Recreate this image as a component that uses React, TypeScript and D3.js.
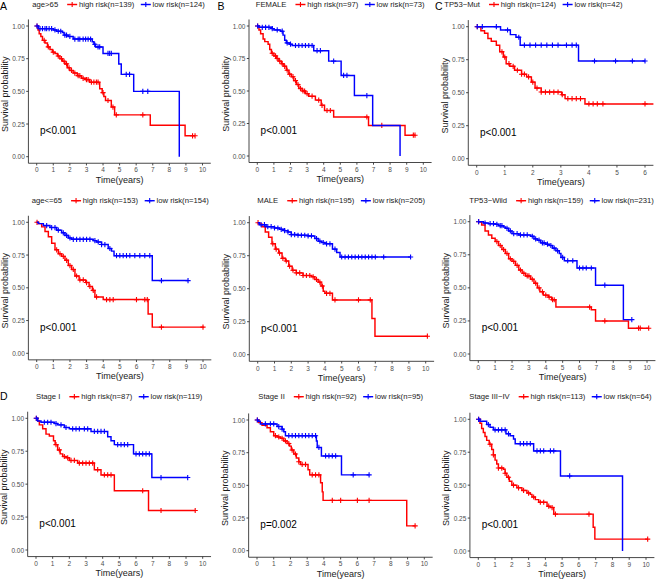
import React from 'react';
import * as d3 from 'd3';

type Step = [number, number];

// ---------- DATA ----------
// Panel A: age>65
const ageGt65HighSteps: Step[] = [[0.08,0.97],[0.15,0.94],[0.25,0.92],[0.35,0.89],[0.5,0.87],[0.65,0.84],[0.8,0.82],[0.95,0.80],[1.1,0.79],[1.25,0.77],[1.4,0.75],[1.55,0.73],[1.7,0.71],[1.85,0.68],[2.0,0.66],[2.2,0.64],[2.45,0.62],[2.7,0.60],[2.95,0.59],[3.2,0.57],[3.8,0.52],[3.95,0.49],[4.05,0.46],[4.15,0.43],[4.5,0.38],[4.7,0.32],[6.85,0.24],[8.95,0.16]];
const ageGt65HighCensor = [0.02,0.45,0.7,1.0,1.3,1.5,1.65,1.8,1.95,2.1,2.3,2.5,2.6,2.8,3.0,3.1,3.3,3.45,3.6,3.7,4.0,4.3,4.6,4.8,6.4,9.4,9.55];
const ageGt65LowSteps: Step[] = [[0.1,0.98],[1.0,0.97],[1.2,0.96],[1.55,0.95],[1.65,0.93],[1.9,0.92],[2.2,0.90],[3.35,0.88],[3.45,0.86],[3.55,0.84],[4.0,0.79],[4.95,0.71],[5.1,0.63],[5.85,0.50],[8.6,0.0]];
const ageGt65LowCensor = [0.02,0.2,0.35,0.5,0.6,0.75,0.9,1.1,1.3,1.45,1.7,1.8,2.0,2.3,2.5,2.6,2.8,2.95,3.1,3.25,3.5,3.7,3.8,4.3,4.4,4.5,5.4,5.6,6.4,6.7];

// Panel B: FEMALE
const femaleHighSteps: Step[] = [[0.1,0.97],[0.2,0.94],[0.35,0.9],[0.45,0.88],[0.65,0.86],[0.75,0.82],[0.85,0.79],[1.0,0.77],[1.15,0.75],[1.3,0.73],[1.45,0.71],[1.6,0.69],[1.75,0.66],[1.9,0.63],[2.05,0.61],[2.2,0.58],[2.35,0.55],[2.5,0.52],[2.7,0.50],[2.9,0.48],[3.1,0.46],[3.5,0.43],[3.85,0.39],[4.05,0.35],[4.6,0.30],[6.7,0.235],[8.9,0.16]];
const femaleHighCensor = [0.02,0.9,1.1,1.2,1.35,1.5,1.65,1.8,1.95,2.15,2.3,2.45,2.6,2.75,2.85,3.0,3.3,3.7,3.9,4.2,4.4,6.6,7.5,9.4,9.5];
const femaleLowSteps: Step[] = [[0.1,0.99],[0.9,0.98],[1.0,0.97],[1.4,0.96],[1.55,0.93],[1.65,0.89],[1.75,0.87],[1.95,0.86],[2.1,0.85],[3.4,0.81],[4.3,0.73],[5.05,0.62],[5.85,0.465],[6.95,0.235],[8.6,0.0]];
const femaleLowCensor = [0.02,0.3,0.5,0.7,0.9,1.2,1.5,1.8,2.0,2.3,2.5,2.7,2.9,3.1,3.3,3.6,3.8,4.6,5.2,5.4,6.6];

// Panel C: TP53-Mut
const mutHighSteps: Step[] = [[0.15,0.97],[0.28,0.95],[0.4,0.91],[0.52,0.89],[0.7,0.86],[0.82,0.81],[0.95,0.77],[1.05,0.72],[1.18,0.70],[1.35,0.67],[1.6,0.64],[1.78,0.62],[1.95,0.58],[2.08,0.535],[2.3,0.505],[3.03,0.485],[3.15,0.455],[3.86,0.415]];
const mutHighCensor = [0.02,0.9,1.0,1.15,1.3,1.45,1.6,1.7,1.85,2.0,2.15,2.3,2.45,2.6,2.75,2.9,3.05,3.25,3.4,3.55,3.7,4.0,4.15,4.3,4.5,6.0];
const mutLowSteps: Step[] = [[0.85,0.975],[1.2,0.94],[1.4,0.92],[1.55,0.86],[3.63,0.74]];
const mutLowCensor = [0.02,0.2,0.7,1.1,1.5,1.7,1.9,2.1,2.3,2.5,2.7,2.9,3.2,3.4,3.55,4.2,4.95,5.55,6.0];

// Panel: age<=65
const ageLe65HighSteps: Step[] = [[0.1,0.99],[0.3,0.965],[0.5,0.93],[0.7,0.89],[0.9,0.84],[1.1,0.79],[1.3,0.76],[1.5,0.74],[1.7,0.71],[1.9,0.67],[2.1,0.64],[2.3,0.59],[2.55,0.56],[2.95,0.54],[3.15,0.51],[3.35,0.48],[3.5,0.43],[4.0,0.41],[6.7,0.30],[6.95,0.20]];
const ageLe65HighCensor = [0.02,1.2,1.4,1.6,1.8,2.0,2.2,2.4,2.6,2.8,3.0,3.2,3.4,3.6,4.2,4.4,4.6,6.0,6.5,6.65,7.5,10.0];
const ageLe65LowSteps: Step[] = [[0.1,0.99],[0.4,0.975],[0.8,0.96],[1.2,0.94],[1.5,0.92],[1.7,0.90],[1.9,0.88],[2.1,0.87],[3.4,0.86],[3.6,0.85],[3.9,0.83],[4.3,0.80],[4.5,0.78],[4.65,0.745],[6.95,0.555]];
const ageLe65LowCensor = [0.6,0.9,1.1,1.3,1.6,1.8,2.0,2.2,2.4,2.6,2.8,3.0,3.2,3.5,3.7,3.9,4.1,4.4,4.8,5.0,5.2,5.4,5.6,5.9,6.2,6.5,6.8,7.5,9.1];

// Panel: MALE
const maleHighSteps: Step[] = [[0.1,0.99],[0.25,0.97],[0.45,0.93],[0.65,0.89],[0.85,0.84],[1.05,0.80],[1.25,0.77],[1.45,0.73],[1.65,0.71],[1.85,0.67],[2.05,0.64],[2.3,0.62],[2.7,0.60],[3.2,0.59],[3.4,0.57],[3.6,0.55],[3.77,0.52],[3.9,0.48],[4.0,0.465],[4.45,0.415],[6.8,0.275],[6.98,0.14]];
const maleHighCensor = [0.02,0.9,1.1,1.3,1.5,1.7,1.9,2.1,2.3,2.5,2.7,2.9,3.1,3.3,3.5,3.7,3.85,4.1,4.3,4.6,6.0,6.7,10.1];
const maleLowSteps: Step[] = [[0.1,0.985],[0.5,0.97],[1.0,0.96],[1.3,0.95],[1.6,0.94],[1.8,0.93],[2.0,0.91],[2.4,0.905],[3.0,0.90],[3.4,0.88],[3.6,0.86],[3.8,0.85],[4.0,0.84],[4.45,0.80],[4.7,0.775],[4.9,0.74]];
const maleLowCensor = [0.2,0.4,0.6,0.8,1.0,1.2,1.4,1.6,1.8,2.0,2.2,2.4,2.6,2.8,3.0,3.2,3.5,3.7,3.9,4.1,4.3,4.6,5.0,5.2,5.4,5.6,5.8,6.0,6.2,6.4,6.6,6.8,7.0,7.5,9.1];

// Panel: TP53-Wild
const wildHighSteps: Step[] = [[0.2,0.975],[0.4,0.93],[0.6,0.90],[0.8,0.875],[1.0,0.85],[1.2,0.82],[1.4,0.79],[1.6,0.76],[1.8,0.72],[2.0,0.70],[2.2,0.67],[2.4,0.635],[2.6,0.61],[2.8,0.59],[3.1,0.565],[3.3,0.535],[3.5,0.50],[3.65,0.47],[3.85,0.445],[4.15,0.43],[4.35,0.41],[4.6,0.355],[6.7,0.335],[6.95,0.25],[8.9,0.195]];
const wildHighCensor = [0.02,1.1,1.3,1.5,1.7,1.9,2.1,2.3,2.5,2.7,2.9,3.0,3.2,3.4,3.6,3.8,4.0,4.2,4.4,4.5,6.6,7.5,9.5,9.6,10.1];
const wildLowSteps: Step[] = [[0.3,0.99],[0.6,0.985],[1.0,0.98],[1.2,0.97],[1.5,0.96],[1.6,0.95],[1.8,0.93],[2.0,0.91],[2.4,0.90],[3.1,0.89],[3.3,0.87],[3.5,0.86],[3.7,0.84],[4.0,0.83],[4.2,0.82],[4.4,0.80],[4.6,0.78],[4.8,0.76],[4.9,0.73],[5.1,0.705],[5.85,0.65],[6.95,0.52],[8.6,0.26]];
const wildLowCensor = [0.02,0.4,0.7,0.9,1.1,1.3,1.4,1.7,1.9,2.1,2.3,2.5,2.7,2.9,3.2,3.4,3.6,3.8,3.9,4.1,4.3,4.5,4.7,5.0,5.3,5.6,6.0,6.2,6.4,6.7,7.5,9.1];

// Panel D: Stage I
const stage1HighSteps: Step[] = [[0.1,0.98],[0.2,0.95],[0.4,0.92],[0.6,0.88],[0.8,0.865],[1.05,0.83],[1.15,0.80],[1.3,0.76],[1.45,0.73],[1.6,0.71],[1.8,0.70],[2.0,0.68],[2.5,0.66],[3.5,0.61],[3.9,0.57],[4.7,0.45],[6.75,0.30]];
const stage1HighCensor = [0.02,1.2,1.4,1.7,1.9,2.1,2.3,2.6,2.8,3.0,3.2,3.4,3.7,4.1,4.3,4.5,6.4,7.5,9.55];
const stage1LowSteps: Step[] = [[0.1,0.98],[0.3,0.97],[1.1,0.96],[1.3,0.95],[1.7,0.93],[2.0,0.92],[3.3,0.90],[4.3,0.86],[4.5,0.83],[4.7,0.80],[5.85,0.73],[6.95,0.55]];
const stage1LowCensor = [0.02,0.5,0.7,0.9,1.2,1.5,1.8,2.2,2.4,2.6,2.9,3.1,3.5,3.7,3.9,4.1,4.9,5.1,5.3,5.5,6.0,6.2,6.4,6.6,6.8,7.5,9.1];

// Panel: Stage II
const stage2HighSteps: Step[] = [[0.1,0.98],[0.3,0.96],[0.6,0.94],[0.8,0.91],[1.0,0.88],[1.2,0.87],[1.4,0.86],[1.6,0.84],[1.8,0.82],[1.95,0.80],[2.05,0.77],[2.2,0.74],[2.35,0.71],[2.5,0.68],[2.6,0.66],[3.05,0.62],[3.15,0.58],[3.8,0.52],[3.9,0.45],[3.95,0.385],[8.95,0.19]];
const stage2HighCensor = [0.02,1.1,1.3,1.5,1.7,1.9,2.1,2.3,2.5,2.7,2.9,3.3,3.5,3.7,4.5,5.0,6.0,6.7,9.45];
const stage2LowSteps: Step[] = [[0.05,0.99],[0.2,0.97],[1.2,0.95],[1.5,0.93],[1.6,0.91],[1.7,0.88],[3.55,0.84],[3.6,0.79],[3.85,0.725],[5.05,0.58]];
const stage2LowCensor = [0.02,0.5,0.8,1.0,1.3,1.5,1.9,2.1,2.3,2.5,2.7,2.9,3.1,3.3,3.5,3.7,4.1,4.3,4.5,4.7,5.75,6.7];

// Panel: Stage III-IV
const stage34HighSteps: Step[] = [[0.1,0.97],[0.2,0.93],[0.3,0.90],[0.4,0.87],[0.5,0.84],[0.65,0.81],[0.8,0.77],[0.9,0.73],[1.0,0.69],[1.1,0.66],[1.2,0.63],[1.5,0.62],[1.6,0.59],[1.7,0.56],[1.85,0.53],[2.0,0.50],[2.3,0.48],[2.6,0.46],[2.9,0.44],[3.1,0.43],[3.2,0.41],[3.4,0.39],[3.6,0.37],[4.1,0.34],[4.3,0.33],[4.5,0.28],[6.85,0.18],[6.95,0.09]];
const stage34HighCensor = [0.02,0.7,0.9,1.2,1.4,1.6,1.8,2.1,2.4,2.7,3.0,3.3,3.7,3.9,4.2,4.4,4.6,6.6,10.1];
const stage34LowSteps: Step[] = [[0.1,0.985],[0.5,0.96],[0.7,0.94],[0.9,0.92],[1.65,0.89],[1.9,0.875],[2.1,0.85],[2.2,0.815],[3.3,0.76],[4.9,0.57],[8.6,0.0]];
const stage34LowCensor = [0.02,0.6,1.0,1.2,1.4,1.6,1.8,2.5,2.7,2.9,3.1,3.5,3.7,3.9,4.3,4.5,5.45];

const groupNames = ['age>65', 'FEMALE', 'TP53\u2212Mut', 'age<=65', 'MALE', 'TP53\u2212Wild', 'Stage I', 'Stage II', 'Stage III\u2212IV'];
const highN = [139, 97, 124, 153, 195, 159, 87, 92, 113];
const lowN = [124, 73, 42, 154, 205, 231, 119, 95, 64];
const pValues = ['p<0.001', 'p<0.001', 'p<0.001', 'p<0.001', 'p<0.001', 'p<0.001', 'p<0.001', 'p=0.002', 'p<0.001'];
const highEnd = [9.55, 9.5, 6.3, 10.05, 10.1, 10.1, 9.55, 9.45, 10.1];
const lowEnd = [8.6, 8.6, 6.0, 9.1, 9.1, 9.1, 9.1, 6.7, 8.6];
const xMaxYears = [10, 10, 6, 10, 10, 10, 10, 10, 10];
const yTickValues = [0, 0.25, 0.5, 0.75, 1];
const panelLetters = ['A', 'B', 'C', '', '', '', 'D', '', ''];

const highStepsAll = [ageGt65HighSteps, femaleHighSteps, mutHighSteps, ageLe65HighSteps, maleHighSteps, wildHighSteps, stage1HighSteps, stage2HighSteps, stage34HighSteps];
const highCensorAll = [ageGt65HighCensor, femaleHighCensor, mutHighCensor, ageLe65HighCensor, maleHighCensor, wildHighCensor, stage1HighCensor, stage2HighCensor, stage34HighCensor];
const lowStepsAll = [ageGt65LowSteps, femaleLowSteps, mutLowSteps, ageLe65LowSteps, maleLowSteps, wildLowSteps, stage1LowSteps, stage2LowSteps, stage34LowSteps];
const lowCensorAll = [ageGt65LowCensor, femaleLowCensor, mutLowCensor, ageLe65LowCensor, maleLowCensor, wildLowCensor, stage1LowCensor, stage2LowCensor, stage34LowCensor];

// ---------- LAYOUT ----------
const layout = [
  { x0: 36.7, xEnd: 202.5, yTop: 26, yBottom: 156.7, legendX: 32.3, legendY: 4.5, letterX: 0, letterY: 10 },
  { x0: 257.3, xEnd: 423.3, yTop: 26, yBottom: 156, legendX: 255.7, legendY: 4.5, letterX: 217.5, letterY: 10 },
  { x0: 476.7, xEnd: 645, yTop: 26.7, yBottom: 158.7, legendX: 444.3, legendY: 4.5, letterX: 435, letterY: 10 },
  { x0: 36.7, xEnd: 203, yTop: 222.3, yBottom: 353.3, legendX: 31.7, legendY: 200.7, letterX: 0, letterY: 0 },
  { x0: 257.7, xEnd: 425.7, yTop: 222.7, yBottom: 354.7, legendX: 257.3, legendY: 200.7, letterX: 0, letterY: 0 },
  { x0: 478.3, xEnd: 647, yTop: 221.7, yBottom: 354, legendX: 469.3, legendY: 200.7, letterX: 0, letterY: 0 },
  { x0: 36, xEnd: 202.7, yTop: 418.3, yBottom: 550, legendX: 36, legendY: 396.7, letterX: 0, letterY: 400 },
  { x0: 257, xEnd: 424.3, yTop: 420, yBottom: 550.7, legendX: 258.3, legendY: 396.7, letterX: 0, letterY: 0 },
  { x0: 478.3, xEnd: 646, yTop: 419.3, yBottom: 551, legendX: 469.3, legendY: 396.7, letterX: 0, letterY: 0 },
];

const FONT = '"Liberation Sans", Arial, Helvetica, sans-serif';
const RED = '#FF0000';
const BLUE = '#0000FF';
const AXIS = '#333333';
const TICKTXT = '#4D4D4D';
const W = 656;
const H = 579;

let measureCtx: CanvasRenderingContext2D | null = null;
function textWidth(s: string, size: number): number {
  if (!measureCtx && typeof document !== 'undefined') {
    measureCtx = document.createElement('canvas').getContext('2d');
  }
  if (!measureCtx) return s.length * size * 0.5;
  measureCtx.font = `${size}px ${FONT}`;
  return measureCtx.measureText(s).width;
}

function survAt(steps: Step[], t: number): number {
  let s = 1;
  for (const [st, sv] of steps) if (st <= t) s = sv;
  return s;
}

function Cross({ cx, cy, color }: { cx: number; cy: number; color: string }) {
  const r = 2.6;
  return (
    <path d={`M${cx - r},${cy}H${cx + r}M${cx},${cy - r}V${cy + r}`} stroke={color} strokeWidth={1.1} fill="none" />
  );
}

function Curve({ steps, end, censor, color, x, y }: any) {
  const last = steps.length ? steps[steps.length - 1][1] : 1;
  const pts: Step[] = [[0, 1], ...steps, [end, last]];
  const line = d3.line<Step>().x((d) => x(d[0])).y((d) => y(d[1])).curve(d3.curveStepAfter);
  return (
    <g>
      <path d={line(pts) || ''} fill="none" stroke={color} strokeWidth={1.45} />
      {censor.map((t: number, i: number) => (
        <Cross key={i} cx={x(t)} cy={y(survAt(steps, t))} color={color} />
      ))}
    </g>
  );
}

function Legend({ i }: { i: number }) {
  const L = layout[i];
  const fs = 7.7;
  const title = groupNames[i];
  const hl = `high risk(n=${highN[i]})`;
  const ll = `low risk(n=${lowN[i]})`;
  const keyW = 10;
  let cx = L.legendX;
  const y = L.legendY;
  const tX = cx;
  cx += textWidth(title, fs) + 9;
  const k1 = cx;
  cx += keyW + 1.8;
  const h1 = cx;
  cx += textWidth(hl, fs) + 6.5;
  const k2 = cx;
  cx += keyW + 1.8;
  const l1 = cx;
  return (
    <g fontFamily={FONT} fontSize={fs} fill="#1a1a1a">
      <text x={tX} y={y} dominantBaseline="central">{title}</text>
      <line x1={k1} x2={k1 + keyW} y1={y} y2={y} stroke={RED} strokeWidth={1.45} />
      <Cross cx={k1 + keyW / 2} cy={y} color={RED} />
      <text x={h1} y={y} dominantBaseline="central">{hl}</text>
      <line x1={k2} x2={k2 + keyW} y1={y} y2={y} stroke={BLUE} strokeWidth={1.45} />
      <Cross cx={k2 + keyW / 2} cy={y} color={BLUE} />
      <text x={l1} y={y} dominantBaseline="central">{ll}</text>
    </g>
  );
}

function Panel({ i }: { i: number }) {
  const L = layout[i];
  const xMax = xMaxYears[i];
  const x = d3.scaleLinear().domain([0, xMax]).range([L.x0, L.xEnd]);
  const y = d3.scaleLinear().domain([0, 1]).range([L.yBottom, L.yTop]);
  const axisX = x(-0.05 * xMax);
  const axisRight = Math.min(x(xMax * 1.05), W);
  const axisY = y(-0.05);
  const axisTop = y(1.05);
  const xTicks = d3.range(0, xMax + 1, 1);
  const tickFs = 6.5;
  return (
    <g>
      <line x1={axisX} x2={axisX} y1={axisTop} y2={axisY} stroke={AXIS} strokeWidth={0.9} />
      <line x1={axisX} x2={axisRight} y1={axisY} y2={axisY} stroke={AXIS} strokeWidth={0.9} />
      {yTickValues.map((v) => (
        <g key={'y' + v}>
          <line x1={axisX - 2.2} x2={axisX} y1={y(v)} y2={y(v)} stroke={AXIS} strokeWidth={0.9} />
          <text x={axisX - 3.6} y={y(v)} textAnchor="end" dominantBaseline="central" fontFamily={FONT} fontSize={tickFs} fill={TICKTXT}>
            {v.toFixed(2)}
          </text>
        </g>
      ))}
      {xTicks.map((v) => (
        <g key={'x' + v}>
          <line x1={x(v)} x2={x(v)} y1={axisY} y2={axisY + 2.2} stroke={AXIS} strokeWidth={0.9} />
          <text x={x(v)} y={axisY + 9.2} textAnchor="middle" fontFamily={FONT} fontSize={tickFs} fill={TICKTXT}>
            {v}
          </text>
        </g>
      ))}
      <text x={(axisX + x(xMax * 1.05)) / 2} y={axisY + 19.5} textAnchor="middle" fontFamily={FONT} fontSize={9} fill="#1a1a1a">
        Time(years)
      </text>
      <text
        transform={`translate(${axisX - 23.5},${(axisTop + axisY) / 2 + 3}) rotate(-90)`}
        textAnchor="middle"
        dominantBaseline="central"
        fontFamily={FONT}
        fontSize={9}
        fill="#1a1a1a"
      >
        Survival probability
      </text>
      <Curve steps={highStepsAll[i]} end={highEnd[i]} censor={highCensorAll[i]} color={RED} x={x} y={y} />
      <Curve steps={lowStepsAll[i]} end={lowEnd[i]} censor={lowCensorAll[i]} color={BLUE} x={x} y={y} />
      <text x={x(xMax * 0.02)} y={y(0.2)} dominantBaseline="central" fontFamily={FONT} fontSize={10} fill="#000">
        {pValues[i]}
      </text>
      <Legend i={i} />
      {panelLetters[i] && (
        <text x={L.letterX} y={L.letterY} fontFamily={FONT} fontSize={10.5} fill="#000">
          {panelLetters[i]}
        </text>
      )}
    </g>
  );
}

export default function App() {
  return (
    <svg
      width={W}
      height={H}
      viewBox={`0 0 ${W} ${H}`}
      style={{ position: 'absolute', left: 0, top: 0, background: '#fff', display: 'block' }}
    >
      <rect x={0} y={0} width={W} height={H} fill="#fff" />
      {groupNames.map((_, i) => (
        <Panel key={i} i={i} />
      ))}
    </svg>
  );
}
